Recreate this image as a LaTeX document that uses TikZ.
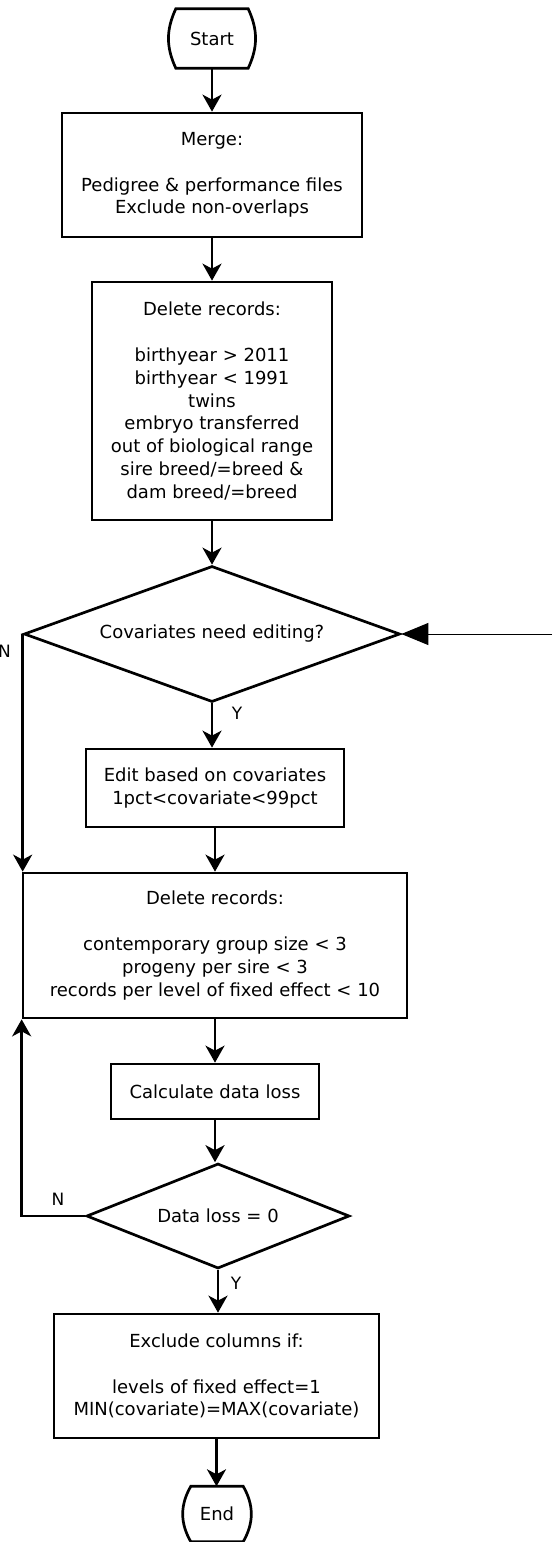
\documentclass[tikz,border=0pt]{standalone}
\usepackage{fontspec}
\setmainfont{DejaVu Sans}
\usetikzlibrary{shapes.geometric,arrows.meta}

\begin{document}
\begin{tikzpicture}[x=1pt,y=-1pt]
\tikzstyle{every node}+=[inner sep=0pt,align=center,font=\fontsize{18}{22.8}\selectfont]
\tikzstyle{proc}=[draw,rectangle,line width=2.7pt]
\tikzstyle{decide}=[draw,diamond,line width=2.7pt]
\tikzstyle{flow}=[line width=2.6pt,-{Stealth[length=17pt,width=19pt,inset=5pt]}]
\tikzstyle{yn}=[font=\fontsize{17}{20}\selectfont]
\useasboundingbox (0,0) rectangle (552,1542);
% start and end
\node (start) at (212,38.5) [minimum width=72pt,minimum height=59pt] {Start};
\draw [line width=2.7pt] (start.north west) -- (start.north east) to[bend left=25] (start.south east) -- (start.south west) to[bend left=25] cycle;
\node (end) at (217,1514) [minimum width=52pt,minimum height=55pt] {End};
\draw [line width=2.7pt] (end.north west) -- (end.north east) to[bend left=30] (end.south east) -- (end.south west) to[bend left=30] cycle;
% steps
\node [proc,minimum width=300pt,minimum height=124pt] (merge) at (212,175) {Merge:\\[22.8pt]Pedigree \& performance files\\Exclude non-overlaps};
\node [proc,minimum width=240pt,minimum height=238pt] (delone) at (212,401) {Delete records:\\[22.8pt]birthyear > 2011\\birthyear < 1991\\twins\\embryo transferred\\out of biological range\\sire breed/=breed \&\\dam breed/=breed};
\node [decide,minimum width=376pt,minimum height=136pt,aspect=2.76] (cov) at (212,634) {Covariates need editing?};
\node [proc,minimum width=258pt,minimum height=78pt] (edit) at (215,788) {Edit based on covariates\\1pct<covariate<99pct};
\node [proc,minimum width=384pt,minimum height=145pt] (deltwo) at (215,945.5) {Delete records:\\[22.8pt]contemporary group size < 3\\progeny per sire < 3\\records per level of fixed effect < 10};
\node [proc,minimum width=208pt,minimum height=55pt] (calc) at (215,1091.5) {Calculate data loss};
\node [decide,minimum width=263pt,minimum height=105pt,aspect=2.5] (loss) at (218,1216) {Data loss = 0};
\node [proc,minimum width=325pt,minimum height=124pt] (excl) at (216.5,1376) {Exclude columns if:\\[22.8pt]levels of fixed effect=1\\MIN(covariate)=MAX(covariate)};
% labels
\node [yn] (covn) at (4.5,651) {N};
\node [yn] (covy) at (237,713) {Y};
\node [yn] (lossn) at (58,1199) {N};
\node [yn] (lossy) at (236,1283) {Y};
% connectors
\draw [flow] (start.south) -- (start.south |- merge.north);
\draw [flow] (merge.south) -- (merge.south |- delone.north);
\draw [flow] (delone.south) -- (delone.south |- cov.north);
\draw [flow] (cov.south) -- (cov.south |- edit.north);
\draw [flow] (edit.south) -- (edit.south |- deltwo.north);
\draw [flow] (cov.west) -- (cov.west |- deltwo.north);
\draw [flow] (deltwo.south) -- (deltwo.south |- calc.north);
\draw [flow] (calc.south) -- (calc.south |- loss.north);
\draw [flow] (loss.west) -| (deltwo.south west);
\draw [flow] (loss.south) -- (loss.south |- excl.north);
\draw [flow] (excl.south) -- (excl.south |- end.north);
\coordinate (feed) at (552,634);
\draw [line width=1pt,-{Triangle[length=27pt,width=22pt]}] (feed) -- (cov.east);
\end{tikzpicture}
\end{document}
